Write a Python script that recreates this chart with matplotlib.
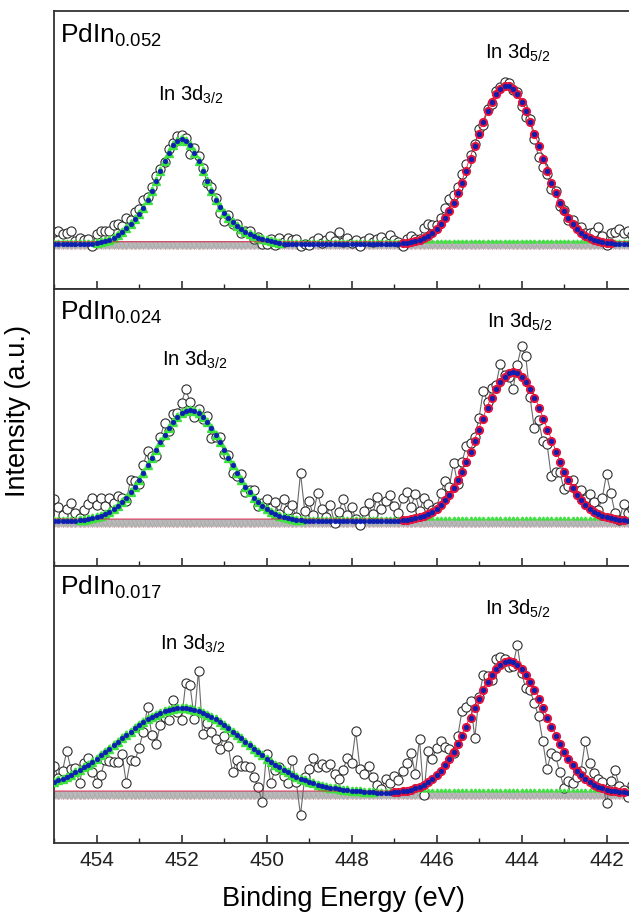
"""XPS In 3d spectra of three PdIn samples: raw data, fitted components, envelope."""
import numpy as np
import matplotlib

matplotlib.use("Agg")
import matplotlib.pyplot as plt  # noqa: E402
from matplotlib.ticker import MultipleLocator  # noqa: E402

plt.rcParams["font.family"] = ["Liberation Sans", "DejaVu Sans"]
plt.rcParams["mathtext.fontset"] = "custom"
plt.rcParams["mathtext.rm"] = "Liberation Sans"
plt.rcParams["mathtext.it"] = "Liberation Sans:italic"
plt.rcParams["mathtext.bf"] = "Liberation Sans:bold"
plt.rcParams["mathtext.default"] = "regular"

# binding energy grid (eV), 0.1 eV step
energy = np.round(np.arange(455.0, 441.35, -0.1), 1)

samples = ["PdIn$_{0.052}$", "PdIn$_{0.024}$", "PdIn$_{0.017}$"]
bg_level = [45, 45, 50]

# In 3d3/2 fitted component, height above background, starting at *_start (eV)
d32_start = [454.0, 454.4, 455.0]
d32_p1 = [1, 2, 3, 4, 6, 9, 12, 16, 20, 25, 30, 36, 44, 53, 63, 73, 83, 91, 98, 102,
          104, 102, 98, 91, 83, 73, 63, 53, 44, 37, 31, 26, 22, 18, 15, 12, 10, 8, 6, 5,
          4, 3, 2, 1]
d32_p2 = [1, 1, 2, 3, 4, 5, 7, 9, 12, 15, 19, 23, 29, 34, 41, 48, 56, 63, 71, 79, 86, 93,
          99, 104, 108, 110, 111, 110, 108, 104, 99, 93, 86, 79, 71, 63, 56, 48, 41, 34,
          29, 23, 19, 15, 12, 9, 7, 5, 4, 3, 2, 1, 1]
d32_p3 = [11, 13, 14, 16, 18, 21, 23, 26, 28, 31, 34, 38, 41, 44, 48, 51, 55, 58, 61, 65,
          68, 71, 74, 76, 78, 80, 82, 83, 84, 85, 85, 85, 84, 83, 82, 80, 78, 76, 74, 71,
          68, 65, 61, 58, 55, 51, 48, 44, 41, 38, 34, 31, 28, 26, 23, 21, 18, 16, 14, 13,
          11, 10, 8, 7, 6, 5, 5, 4, 3, 3, 2, 2, 2, 1, 1, 1]

# In 3d5/2 fitted component
d52_start = [446.8, 446.8, 447.0]
d52_p1 = [1, 1, 2, 3, 4, 6, 8, 11, 15, 20, 26, 33, 41, 51, 61, 73, 85, 97, 109, 121,
          132, 141, 149, 154, 157, 157, 154, 149, 141, 132, 121, 109, 97, 85, 73, 61,
          51, 41, 33, 26, 20, 15, 11, 8, 6, 4, 3, 2, 1, 1]
d52_p2 = [1, 1, 2, 3, 4, 5, 7, 9, 12, 16, 21, 26, 33, 41, 49, 59, 69, 80, 91, 102, 113,
          123, 132, 139, 144, 148, 149, 148, 144, 139, 132, 123, 113, 102, 91, 80, 69,
          59, 49, 41, 33, 26, 21, 16, 12, 9, 7, 5, 4, 3, 2, 1, 1]
d52_p3 = [1, 1, 2, 2, 3, 5, 6, 8, 11, 14, 18, 22, 28, 34, 41, 49, 57, 66, 75, 85, 94,
          103, 111, 118, 124, 128, 131, 132, 131, 128, 124, 118, 111, 103, 94, 85, 75,
          66, 57, 49, 41, 34, 28, 22, 18, 14, 11, 8, 6, 5, 3, 2, 2, 1, 1]

# measured points minus fit envelope (scatter of the raw data)
resid_p1 = [12, 13, 10, 11, 13, 3, 6, 4, 5, -2,
            9, 11, 10, 9, 13, 11, 6, 10, 4, 7,
            5, 8, 3, 4, 5, 2, -1, 3, 2, 5,
            4, 3, -8, 4, 5, 3, -2, 4, 2, -6,
            -8, 3, -2, 2, -4, 1, 3, -3, 1, -5,
            -4, 2, -3, 5, 2, 6, 4, 5, -2, 0,
            -1, 3, 6, 1, 4, 8, 3, 12, 2, 6,
            1, 4, -2, 3, 6, 2, 5, 7, 3, 9,
            4, 2, -3, 4, 6, 2, 1, 10, 12, 8,
            4, 6, 10, 12, 8, 6, 9, 7, 4, 2,
            5, -3, 2, -2, 3, 2, 4, 3, -1, 2,
            -4, -6, 3, -5, -10, -8, -3, -6, 2, -3,
            1, -2, 4, 2, 6, 3, 5, 8, 14, 6,
            -2, 10, 12, 15, 11, 13, 9]
resid_p2 = [22, 14, 6, 12, 18, 8, 2, 10, 15, 20,
            12, 18, 8, 14, 6, 10, 4, -3, 12, 6,
            -4, 8, 14, 2, -6, 5, 12, -3, 8, 4,
            10, 22, 8, -6, 4, -2, 6, -10, -2, 5,
            -4, 3, -8, -3, 6, -5, 2, 8, -4, 3,
            10, 4, 12, 2, 18, 8, 14, 3, 47, 10,
            20, 6, 28, 12, 4, 16, -2, 9, 22, 6,
            14, 2, -4, 10, 18, 7, 24, 12, 20, 26,
            15, 8, 22, 28, 12, 24, 6, 18, 10, 2,
            2, 12, 19, 8, 25, -4, 10, 16, 9, 4,
            12, 28, 6, 10, 4, 18, 2, -4, -17, 8,
            31, 26, -8, -30, -12, -22, -14, -35, -20, -10,
            -17, -6, 8, 4, 10, 6, 15, 10, 4, 18,
            43, 25, 6, 0, 16, 8, 12]
resid_p3 = [16, 2, 8, 26, 6, 4, -13, 4, 7, -10,
            -24, -20, -8, -12, -17, -20, -16, -48, -28, -33,
            -23, -10, 12, -18, -29, -12, -6, -10, 9, -4,
            -12, 25, 24, -9, 40, -21, -8, -15, -20, -27,
            -11, -18, -40, -25, -28, -24, -22, -28, -35, -47,
            5, -21, -5, 0, -6, -11, 15, -5, -36, 3,
            13, 25, 18, 22, 20, 24, 14, 10, 20, 32,
            28, 60, 22, 18, 26, 15, 8, 4, 14, 10,
            16, 12, 20, 28, 37, 14, 48, -10, 31, 20,
            27, 30, 18, 10, -1, 8, 25, 20, 17, -30,
            2, 15, 6, -5, 10, 8, 3, -6, -4, 20,
            -4, -13, -8, -13, -17, -33, -51, -26, -20, -28,
            -36, -22, -18, -6, 4, 38, 19, 12, 8, 6,
            -13, 10, 21, 6, 2, -4, 8]

d32_all = [d32_p1, d32_p2, d32_p3]
d52_all = [d52_p1, d52_p2, d52_p3]
resid_all = [resid_p1, resid_p2, resid_p3]

# text placement (axes fraction)
name_y = [0.884, 0.888, 0.895]
d32_xy = [(0.180, 0.679), (0.187, 0.722), (0.183, 0.697)]
d52_xy = [(0.746, 0.830), (0.749, 0.859), (0.746, 0.823)]

C_RAW = "#2e2e2e"
C_GREEN = "#3ee23e"
C_RED = "#e3143c"
C_BLUE = "#0d1fb0"
C_GRAY = "#b9b9b9"


def on_grid(vals, start):
    arr = np.zeros(len(energy))
    i0 = int(round((455.0 - start) * 10))
    arr[i0:i0 + len(vals)] = vals
    return arr


fig = plt.figure(figsize=(6.29, 9.17), dpi=100)
W, H = 629, 917
left_px, width_px = 54, 578
tops = [11, 289, 566]
heights = [278, 277, 277]

axes = []
for k in range(3):
    ax = fig.add_axes([left_px / W, 1 - (tops[k] + heights[k]) / H,
                       width_px / W, heights[k] / H])
    axes.append(ax)
    bg = np.full(len(energy), bg_level[k], dtype=float)
    c32 = on_grid(d32_all[k], d32_start[k])
    c52 = on_grid(d52_all[k], d52_start[k])
    env = bg + c32 + c52
    raw = env + np.array(resid_all[k])

    # background band
    ax.plot(energy, bg - 1.5, color=C_GRAY, lw=5.5, marker="v", ms=6, mfc=C_GRAY,
            mec="#a8a8a8", mew=0.5, zorder=1)
    ax.plot(energy, bg - 5.5, color="#e7a0a6", lw=0.6, ls=":", zorder=1)
    # raw data
    ax.plot(energy, raw, color="#6a6a6a", lw=0.8, marker="o", ms=6.6, mfc="white",
            mec=C_RAW, mew=0.8, zorder=2)
    # 3d3/2 component
    m32 = list(c32 >= 1)
    ax.plot(energy, bg + c32 + 3, color=C_GREEN, lw=0.6, ls=":", marker="^", ms=2.2,
            mfc=C_GREEN, mec=C_GREEN, zorder=3)
    ax.plot(energy, bg + c32, ls="none", marker="^", ms=5.8, mfc=C_GREEN, mec=C_GREEN,
            markevery=m32, zorder=3)
    # 3d5/2 component
    m52 = list(c52 >= 1)
    ax.plot(energy, bg + c52 + 2, color=C_RED, lw=0.6, ls="-", zorder=3)
    ax.plot(energy, bg + c52, ls="none", marker="o", ms=5.6, mfc=C_RED, mec=C_RED,
            markevery=m52, zorder=3)
    # envelope
    ax.plot(energy, env, ls="none", marker="o", ms=3.4, mfc=C_BLUE, mec=C_BLUE,
            mew=0.4, zorder=4)

    ax.set_xlim(455, 441.4)
    ax.set_ylim(0, 277)
    ax.set_yticks([])
    ax.xaxis.set_major_locator(MultipleLocator(2))
    ax.xaxis.set_minor_locator(MultipleLocator(1))
    ax.tick_params(axis="x", which="major", direction="in", length=6, width=1.1,
                   labelsize=15, pad=6, colors="#222222")
    ax.tick_params(axis="x", which="minor", direction="in", length=3.5, width=1.0,
                   colors="#222222")
    for s in ax.spines.values():
        s.set_linewidth(1.3)
        s.set_color("#333333")
    if k < 2:
        ax.tick_params(axis="x", which="both", labelbottom=False)

    ax.text(0.0104, name_y[k], samples[k], transform=ax.transAxes, fontsize=19,
            ha="left", va="baseline")
    ax.text(*d32_xy[k], "In 3d$_{3/2}$", transform=ax.transAxes, fontsize=14.5,
            ha="left", va="baseline")
    ax.text(*d52_xy[k], "In 3d$_{5/2}$", transform=ax.transAxes, fontsize=14.5,
            ha="left", va="baseline")

axes[-1].set_xlabel("Binding Energy (eV)", fontsize=19.5, labelpad=11)
fig.text(18 / W, 1 - 411 / H, "Intensity (a.u.)", rotation=90, fontsize=19.5,
         ha="center", va="center")

fig.savefig("out.png", dpi=100)
